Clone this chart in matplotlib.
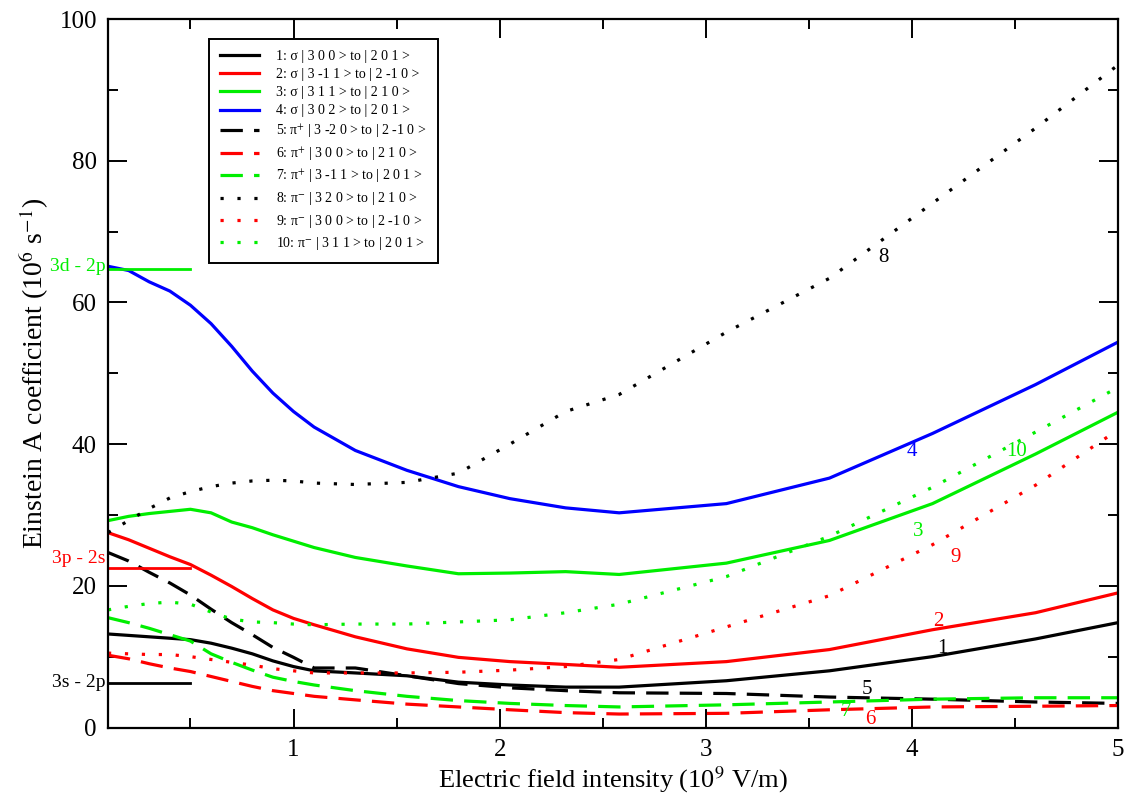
import matplotlib
matplotlib.use('Agg')
import matplotlib.pyplot as plt
from matplotlib.ticker import MultipleLocator

plt.rcParams['font.family'] = ['Liberation Serif', 'DejaVu Serif']
plt.rcParams['mathtext.fontset'] = 'stix'

# ---------------- data ----------------
field = [0.1, 0.2, 0.3, 0.4, 0.5, 0.6, 0.7, 0.8, 0.9, 1.0, 1.1, 1.3, 1.55, 1.8,
         2.05, 2.32, 2.58, 3.1, 3.6, 4.1, 4.6, 5.0]

s1 = [13.2, 13.0, 12.8, 12.6, 12.4, 11.9, 11.2, 10.4, 9.4, 8.6, 8.0, 7.7, 7.3, 6.4,
      6.0, 5.7, 5.7, 6.6, 8.0, 10.0, 12.5, 14.8]
s2 = [27.5, 26.5, 25.3, 24.1, 23.0, 21.5, 19.9, 18.2, 16.6, 15.4, 14.5, 12.8, 11.1, 9.9,
      9.3, 8.9, 8.5, 9.3, 11.0, 13.8, 16.2, 19.0]
s3 = [29.2, 29.8, 30.2, 30.5, 30.8, 30.3, 29.0, 28.2, 27.2, 26.3, 25.4, 24.0, 22.8, 21.7,
      21.8, 22.0, 21.6, 23.2, 26.4, 31.6, 38.6, 44.5]
s4 = [65.1, 64.5, 62.9, 61.6, 59.6, 57.0, 53.8, 50.3, 47.2, 44.6, 42.4, 39.1, 36.3, 34.0,
      32.3, 31.0, 30.3, 31.6, 35.2, 41.5, 48.4, 54.4]
s5 = [24.7, 23.5, 21.9, 20.4, 18.7, 16.7, 14.8, 13.1, 11.3, 9.9, 8.4, 8.4, 7.3, 6.2,
      5.6, 5.2, 4.9, 4.8, 4.3, 4.0, 3.6, 3.4]
s6 = [10.2, 9.7, 9.0, 8.4, 7.9, 7.2, 6.5, 5.8, 5.2, 4.8, 4.4, 3.9, 3.3, 2.9,
      2.5, 2.1, 1.9, 2.0, 2.5, 2.9, 3.0, 3.1]
s7 = [15.5, 14.8, 14.0, 13.1, 12.2, 10.4, 9.2, 8.1, 7.1, 6.5, 6.0, 5.2, 4.4, 3.8,
      3.4, 3.1, 2.9, 3.2, 3.6, 4.0, 4.2, 4.2]
s8 = [27.5, 29.2, 30.9, 32.4, 33.3, 34.0, 34.5, 34.8, 34.9, 34.8, 34.5, 34.3, 34.6, 35.9,
      40.0, 44.6, 47.0, 55.8, 63.4, 74.0, 84.6, 93.5]
s9 = [10.5, 10.4, 10.3, 10.3, 10.0, 9.6, 9.2, 8.8, 8.3, 8.0, 7.7, 7.7, 7.7, 7.8,
      8.1, 8.6, 9.6, 14.2, 18.6, 25.8, 34.2, 42.0]
s10 = [16.6, 17.1, 17.5, 17.7, 17.4, 16.3, 15.3, 14.9, 14.8, 14.6, 14.5, 14.6, 14.6, 14.9,
       15.2, 16.2, 17.4, 21.3, 27.0, 33.9, 41.7, 48.0]

legend_labels = [
    "1: σ | 3 0 0 > to | 2 0 1 >",
    "2: σ | 3 -1 1 > to | 2 -1 0 >",
    "3: σ | 3 1 1 > to | 2 1 0 >",
    "4: σ | 3 0 2 > to | 2 0 1 >",
    "5: π$^{+}$ | 3 -2 0 > to | 2 -1 0 >",
    "6: π$^{+}$ | 3 0 0 > to | 2 1 0 >",
    "7: π$^{+}$ | 3 -1 1 > to | 2 0 1 >",
    "8: π$^{-}$ | 3 2 0 > to | 2 1 0 >",
    "9: π$^{-}$ | 3 0 0 > to | 2 -1 0 >",
    "10: π$^{-}$ | 3 1 1 > to | 2 0 1 >",
]
curve_ids = ["1", "2", "3", "4", "5", "6", "7", "8", "9", "10"]

# zero-field reference lines
ref_names = ["3d - 2p", "3p - 2s", "3s - 2p"]
ref_values = [64.7, 22.45, 6.31]
ref_x = [0.1, 0.5]

# ---------------- styling ----------------
RED, GREEN, BLUE, BLACK = '#ff0000', '#00ee00', '#0000ff', '#000000'
SOLID = '-'
DASH = (0, (7.0, 3.5))
DOT = (0, (1.0, 4.3))
series = [s1, s2, s3, s4, s5, s6, s7, s8, s9, s10]
colors = [BLACK, RED, GREEN, BLUE, BLACK, RED, GREEN, BLACK, RED, GREEN]
styles = [SOLID] * 4 + [DASH] * 3 + [DOT] * 3
label_pos = [(4.15, 11.2), (4.13, 14.9), (4.03, 27.7), (4.0, 39.0), (3.78, 5.3),
             (3.80, 1.1), (3.68, 2.2), (3.86, 66.4), (4.21, 24.0), (4.51, 39.0)]
ref_colors = [GREEN, RED, BLACK]
ref_text_y = [65.0, 23.8, 6.3]

fig = plt.figure(figsize=(11.30, 8.09), dpi=100)
ax = fig.add_axes([108 / 1130, 1 - 727.5 / 809, (1118 - 108) / 1130, (727.5 - 19) / 809])

for ys, c, ls, lab in zip(series, colors, styles, legend_labels):
    ax.plot(field, ys, color=c, linestyle=ls, linewidth=2.3, label=lab)

for name, val, c, ty in zip(ref_names, ref_values, ref_colors, ref_text_y):
    ax.plot(ref_x, [val, val], color=c, linewidth=2.0)
    ax.annotate(name, xy=(ref_x[0], ty), xytext=(-2, 0), textcoords='offset points',
                ha='right', va='center', color=c, fontsize=14, annotation_clip=False)

for cid, (lx, ly), c in zip(curve_ids, label_pos, colors):
    ax.text(lx, ly, cid, color=c, fontsize=15, ha='center', va='center')

ax.set_xlim(0.1, 5)
ax.set_ylim(0, 100)
ax.xaxis.set_major_locator(MultipleLocator(1))
ax.xaxis.set_minor_locator(MultipleLocator(0.5))
ax.yaxis.set_major_locator(MultipleLocator(20))
ax.yaxis.set_minor_locator(MultipleLocator(10))
ax.tick_params(which='both', direction='in', top=True, right=True, width=1.4,
               labelsize=18)
ax.tick_params(which='major', length=14, pad=8)
ax.tick_params(which='minor', length=7)
for sp in ax.spines.values():
    sp.set_linewidth(1.6)

ax.set_xlabel("Electric field intensity (10$^{9}$ V/m)", fontsize=19, labelpad=3)
ax.set_ylabel("Einstein A coefficient (10$^{6}$ s$^{-1}$)", fontsize=20, labelpad=6)

leg = ax.legend(loc='upper left', bbox_to_anchor=(0.1, 0.972), borderaxespad=0,
                fontsize=10, handlelength=2.8, handletextpad=1.25, labelspacing=0.37,
                borderpad=0.8, fancybox=False, framealpha=1, edgecolor='black')
leg.get_frame().set_linewidth(1.4)

fig.savefig('out.png', dpi=100)
